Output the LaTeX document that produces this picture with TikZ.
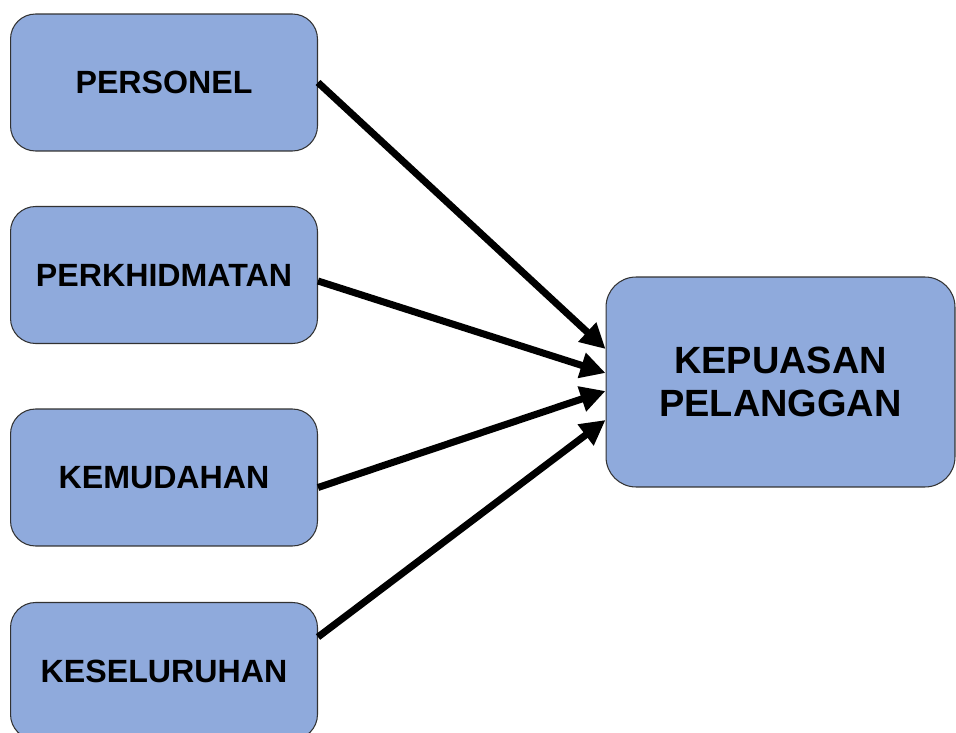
\documentclass[tikz,border=0pt]{standalone}
\usepackage{fontspec}
\setmainfont{Liberation Sans}
\usepackage{xcolor}
\usepackage{tikz}
\usetikzlibrary{positioning,calc,arrows.meta}
\definecolor{boxblue}{RGB}{143,170,220}
\definecolor{boxline}{RGB}{50,50,50}

\begin{document}
\begin{tikzpicture}[x=0.02cm, y=-0.02cm,
    factor/.style={draw=boxline, line width=0.6pt, fill=boxblue, rounded corners=0.5cm,
        minimum width=6.14cm, minimum height=2.74cm, font=\fontsize{18.3}{22}\selectfont\bfseries},
    target/.style={factor, minimum width=6.98cm, minimum height=4.2cm, rounded corners=0.6cm,
        align=center, font=\fontsize{21.6}{24.8}\selectfont\bfseries},
    link/.style={line width=4pt, -{Triangle[length=0.5cm, width=0.5cm]}}]
    \clip (0,0) rectangle (956,733);
    \useasboundingbox (0,0) rectangle (956,733);

    % Factors
    \node[factor] (personel) at (164,82.5) {PERSONEL};
    \node[factor] (perkhidmatan) at (164,275) {PERKHIDMATAN};
    \node[factor] (kemudahan) at (164,477.5) {KEMUDAHAN};
    \node[factor] (keseluruhan) at (164,671) {KESELURUHAN};

    % Outcome
    \node[target] (kepuasan) at (780.5,382) {KEPUASAN\\PELANGGAN};

    % Links
    \draw[link] (personel.east) -- ($(kepuasan.west)+(0,-33)$);
    \draw[link] ($(perkhidmatan.east)+(0,6)$) -- ($(kepuasan.west)+(0,-9)$);
    \draw[link] ($(kemudahan.east)+(0,10)$) -- ($(kepuasan.west)+(0,9)$);
    \draw[link] ($(keseluruhan.east)+(0,-34)$) -- ($(kepuasan.west)+(0,38)$);
\end{tikzpicture}
\end{document}
